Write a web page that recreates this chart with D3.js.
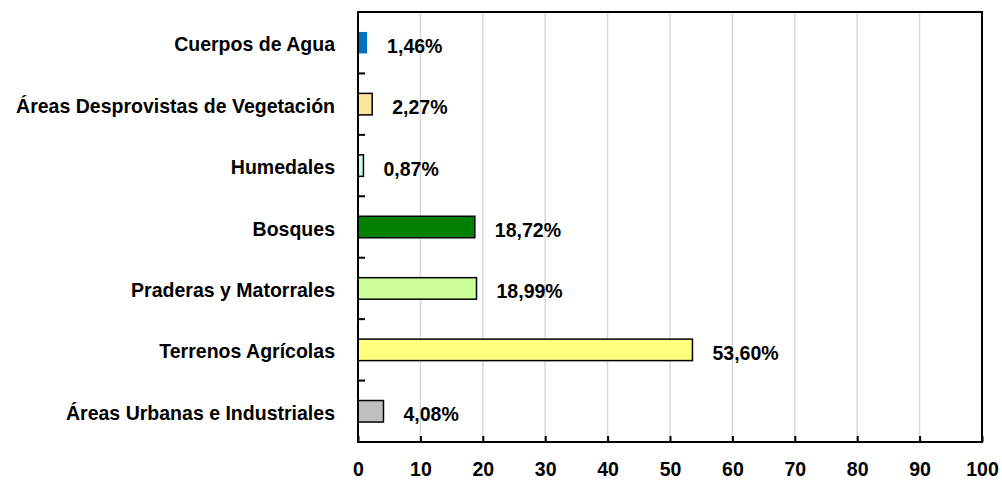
<!DOCTYPE html>
<html><head><meta charset="utf-8">
<script src="https://cdn.jsdelivr.net/npm/d3@7"></script>
<style>body{margin:0;background:#fff}svg{display:block}</style>
</head><body><svg id="c" width="1002" height="480"></svg>
<script>
const categories = ["Cuerpos de Agua","Áreas Desprovistas de Vegetación","Humedales","Bosques","Praderas y Matorrales","Terrenos Agrícolas","Áreas Urbanas e Industriales"];
const values = [1.46, 2.27, 0.87, 18.72, 18.99, 53.60, 4.08];
const colors = ["#0070C0","#FFE699","#CCFFE6","#008000","#CCFF99","#FFFF80","#C0C0C0"];
const xTicks = [0,10,20,30,40,50,60,70,80,90,100];

const svg = d3.select("#c");
const m = {l:358, r:982, t:12, b:442};
const font = "'Liberation Sans', Arial, sans-serif";
const FS = 21, SX = 0.93;
const x = d3.scaleLinear().domain([0,100]).range([m.l, m.r]);
const y = d3.scaleBand().domain(categories).range([m.t, m.b]).paddingInner(0.65).paddingOuter(0.325);

function styleText(sel){
  sel.attr("font-family", font).attr("font-weight","bold").attr("font-size", FS).attr("fill","#000");
}

// grid
svg.append("g").selectAll("line").data(xTicks.slice(1,-1)).join("line")
  .attr("x1", d=>x(d)).attr("x2", d=>x(d)).attr("y1", m.t).attr("y2", m.b)
  .attr("stroke", "#d9d9d9").attr("stroke-width", 1.5);

// bars
svg.append("g").selectAll("rect").data(values).join("rect")
  .attr("x", x(0)).attr("y", (d,i)=>y(categories[i]))
  .attr("width", d=>x(d)-x(0)).attr("height", y.bandwidth())
  .attr("fill", (d,i)=>colors[i])
  .attr("stroke", (d,i)=> i===0 ? "none" : "#000").attr("stroke-width", 1.5);

// value labels
svg.append("g").selectAll("text").data(values).join("text")
  .attr("transform", (d,i)=>`translate(${x(d)+20},${y(categories[i])+y.bandwidth()/2+10}) scale(${SX},1)`)
  .call(styleText)
  .text(d=>d.toFixed(2).replace(".",",")+"%");

// frame
svg.append("rect").attr("x", m.l).attr("y", m.t).attr("width", m.r-m.l).attr("height", m.b-m.t)
  .attr("fill","none").attr("stroke","#000").attr("stroke-width",2);

// x axis
const xa = svg.append("g").attr("transform", `translate(0,${m.b})`)
  .call(d3.axisBottom(x).tickValues(xTicks).tickSize(-6).tickFormat(d3.format("d")));
xa.select(".domain").remove();
xa.selectAll("line").attr("stroke","#000").attr("stroke-width",2);
xa.selectAll("text").attr("y",null).attr("dy",null)
  .attr("transform", `translate(0,34) scale(${SX},1)`).call(styleText);

// y axis
const ya = svg.append("g").attr("transform", `translate(${m.l},0)`)
  .call(d3.axisLeft(y).tickSize(0));
ya.select(".domain").remove();
ya.selectAll("text").attr("x",null).attr("dy",null)
  .attr("transform", `translate(-23,8.5) scale(${SX},1)`).call(styleText);

// category boundary ticks
const bounds = categories.slice(1).map(c => y(c) - y.step()*y.paddingInner()/2);
svg.append("g").selectAll("line").data(bounds).join("line")
  .attr("x1", m.l).attr("x2", m.l+7).attr("y1", d=>d).attr("y2", d=>d)
  .attr("stroke","#000").attr("stroke-width",2);
</script></body></html>
